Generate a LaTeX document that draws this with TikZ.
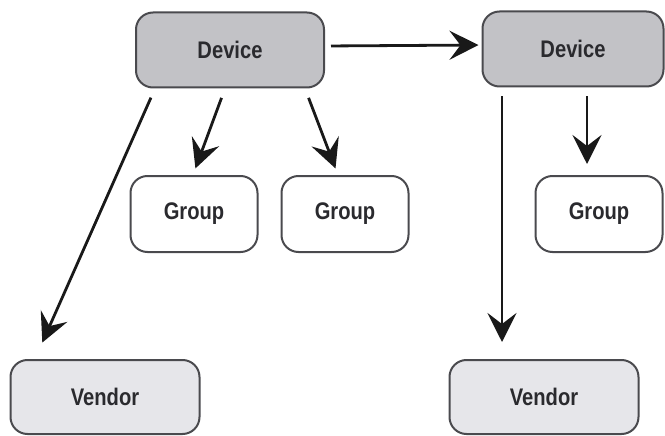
\documentclass[tikz,border=0pt]{standalone}
\usepackage{fontspec}
\setmainfont{Liberation Sans}[FakeStretch=0.84]
\usetikzlibrary{arrows.meta}
\definecolor{devfill}{HTML}{C2C2C6}
\definecolor{venfill}{HTML}{E6E6EA}
\definecolor{edge}{HTML}{4A4A4E}
\definecolor{txt}{HTML}{2A2A2E}
\tikzset{
  box/.style={draw=edge, line width=2pt, rounded corners=17pt, inner sep=0pt,
    font=\fontsize{24}{28}\selectfont\bfseries, text=txt},
  devbox/.style={box, fill=devfill, minimum width=#1, minimum height=75pt},
  grpbox/.style={box, fill=white, minimum width=127pt, minimum height=76pt},
  venbox/.style={box, fill=venfill, minimum width=189pt, minimum height=74pt},
  arr/.style={line width=2.8pt, draw=black!90,
    -{Stealth[length=29pt, width=29pt, inset=11pt]}}
}
\begin{document}
\begin{tikzpicture}[x=1pt, y=-1pt]
  \useasboundingbox (0,0) rectangle (665,436);
  % devices
  \node[devbox=188pt] (d1) at (230,50) {Device};
  \node[devbox=181pt] (d2) at (573,49) {Device};
  % groups
  \node[grpbox] (g1) at (194,214) {Group};
  \node[grpbox] (g2) at (345,214) {Group};
  \node[grpbox] (g3) at (599,214) {Group};
  % vendors
  \node[venbox] (v1) at (105,397) {Vendor};
  \node[venbox] (v2) at (544,397) {Vendor};
  % connectors
  \draw[arr, shorten <=6pt, shorten >=3pt]
    ([yshift=4pt]d1.east) -- ([yshift=4pt]d2.west);
  \draw[arr, shorten <=10pt, shorten >=18pt]
    ([xshift=-75pt]d1.south) -- ([xshift=-70pt]v1.north);
  \draw[arr, shorten <=10pt, shorten >=7pt]
    ([xshift=-5pt]d1.south) -- ([xshift=-1pt]g1.north);
  \draw[arr, shorten <=10pt, shorten >=7pt]
    ([xshift=75pt]d1.south) -- ([xshift=-7pt]g2.north);
  \draw[arr, shorten <=9pt, shorten >=17pt]
    ([xshift=-71pt]d2.south) -- ([xshift=-42pt]v2.north);
  \draw[arr, shorten <=9pt, shorten >=11pt]
    ([xshift=14pt]d2.south) -- ([xshift=-12pt]g3.north);
\end{tikzpicture}
\end{document}
